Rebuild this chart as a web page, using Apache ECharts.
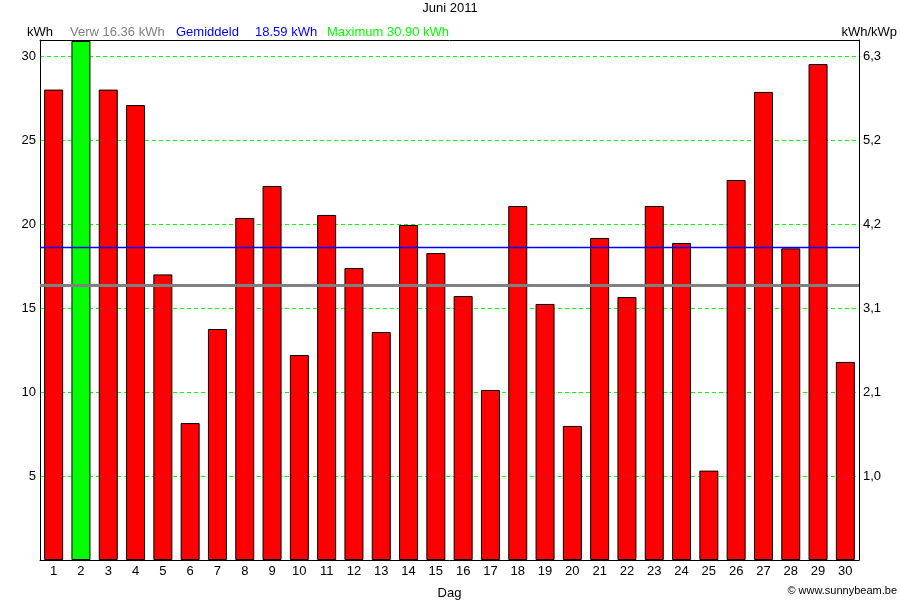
<!DOCTYPE html>
<html>
<head>
<meta charset="utf-8">
<script src="https://cdn.jsdelivr.net/npm/echarts@6/dist/echarts.min.js"></script>
<style>html,body{margin:0;padding:0;background:#fff}#c{width:900px;height:600px}</style>
</head>
<body>
<div id="c"></div>
<script>
const days = ['1','2','3','4','5','6','7','8','9','10','11','12','13','14','15','16','17','18','19','20','21','22','23','24','25','26','27','28','29','30'];
const energy = [28.0, 30.9, 28.0, 27.08, 17.0, 8.15, 13.75, 20.36, 22.26, 12.2, 20.54, 17.38, 13.57, 19.94, 18.27, 15.71, 10.12, 21.07, 15.24, 7.98, 19.17, 15.65, 21.07, 18.87, 5.32, 22.62, 27.86, 18.55, 29.52, 11.79];
const averageValue = 18.59;
const expectedValue = 16.36;
const maximumValue = 30.9;
const axisMax = 30.952380952;
const leftTicks = [5, 10, 15, 20, 25, 30];
const rightTickLabels = {5: '1,0', 10: '2,1', 15: '3,1', 20: '4,2', 25: '5,2', 30: '6,3'};

const FONT = 'Liberation Sans';
const FS = 13;
const chart = echarts.init(document.getElementById('c'), null, {renderer: 'canvas'});

const barData = energy.map(v => ({
  value: v,
  itemStyle: { color: v === maximumValue ? '#00ff00' : '#ff0000' }
}));

chart.setOption({
  animation: false,
  backgroundColor: '#ffffff',
  textStyle: { fontFamily: FONT },
  grid: { left: 40, right: 41, top: 40, bottom: 40, containLabel: false, outerBoundsMode: 'none',
          show: false },
  xAxis: [{
    type: 'category',
    data: days,
    axisLine: { show: true, onZero: false, lineStyle: { color: '#000', width: 1 } },
    axisTick: { show: false },
    axisLabel: { color: '#000', fontSize: FS, fontFamily: FONT, margin: 5 },
    name: 'Dag',
    nameLocation: 'middle',
    nameGap: 27,
    nameTextStyle: { color: '#000', fontSize: FS, fontFamily: FONT }
  }, {
    type: 'category',
    data: days,
    position: 'top',
    axisLine: { show: true, onZero: false, lineStyle: { color: '#000', width: 1 } },
    axisTick: { show: false },
    axisLabel: { show: false }
  }],
  yAxis: [{
    type: 'value',
    min: 0, max: axisMax, interval: 5,
    axisLine: { show: true, lineStyle: { color: '#000' } },
    axisTick: { show: false },
    axisLabel: { color: '#000', fontSize: FS, fontFamily: FONT, margin: 4, showMaxLabel: false,
      formatter: v => leftTicks.indexOf(v) >= 0 ? String(v) : '' },
    splitLine: { show: true, showMinLine: false, showMaxLine: false,
      lineStyle: { color: '#00ff00', type: [4, 3], width: 1 } }
  }, {
    type: 'value',
    min: 0, max: axisMax, interval: 5,
    position: 'right',
    axisLine: { show: true, lineStyle: { color: '#000' } },
    axisTick: { show: false },
    axisLabel: { color: '#000', fontSize: FS, fontFamily: FONT, margin: 4, showMaxLabel: false,
      formatter: v => rightTickLabels[v] || '' },
    splitLine: { show: false }
  }],
  series: [{
    type: 'bar',
    data: barData,
    barWidth: 19,
    itemStyle: { borderColor: '#000', borderWidth: 1 },
    markLine: {
      silent: true,
      symbol: 'none',
      label: { show: false },
      lineStyle: { color: '#808080', width: 3, type: 'solid' },
      data: [ { yAxis: expectedValue } ]
    }
  }, {
    type: 'line',
    name: 'Gemiddeld',
    data: [],
    z: 6,
    color: '#0000ff',
    markLine: {
      silent: true,
      symbol: 'none',
      label: { show: false },
      lineStyle: { color: '#0000ff', width: 1.4, type: 'solid', opacity: 1 },
      data: [ { yAxis: averageValue } ]
    }
  }],
  graphic: [
    { type: 'text', left: 'center', top: 2, style: { text: 'Juni 2011', fill: '#000', font: FS + 'px ' + FONT } },
    { type: 'text', left: 27, top: 26, style: { text: 'kWh', fill: '#000', font: FS + 'px ' + FONT } },
    { type: 'text', left: 70, top: 26, style: { text: 'Verw ' + expectedValue.toFixed(2) + ' kWh', fill: '#808080', font: FS + 'px ' + FONT } },
    { type: 'text', left: 176, top: 26, style: { text: 'Gemiddeld', fill: '#0000ff', font: FS + 'px ' + FONT } },
    { type: 'text', left: 255, top: 26, style: { text: averageValue.toFixed(2) + ' kWh', fill: '#0000ff', font: FS + 'px ' + FONT } },
    { type: 'text', left: 327, top: 26, style: { text: 'Maximum ' + maximumValue.toFixed(2) + ' kWh', fill: '#00ff00', font: FS + 'px ' + FONT } },
    { type: 'text', right: 3, top: 26, style: { text: 'kWh/kWp', fill: '#000', font: FS + 'px ' + FONT } },
    { type: 'text', right: 3, top: 585, style: { text: '© www.sunnybeam.be', fill: '#000', font: '11px ' + FONT } }
  ]
});
</script>
</body>
</html>
